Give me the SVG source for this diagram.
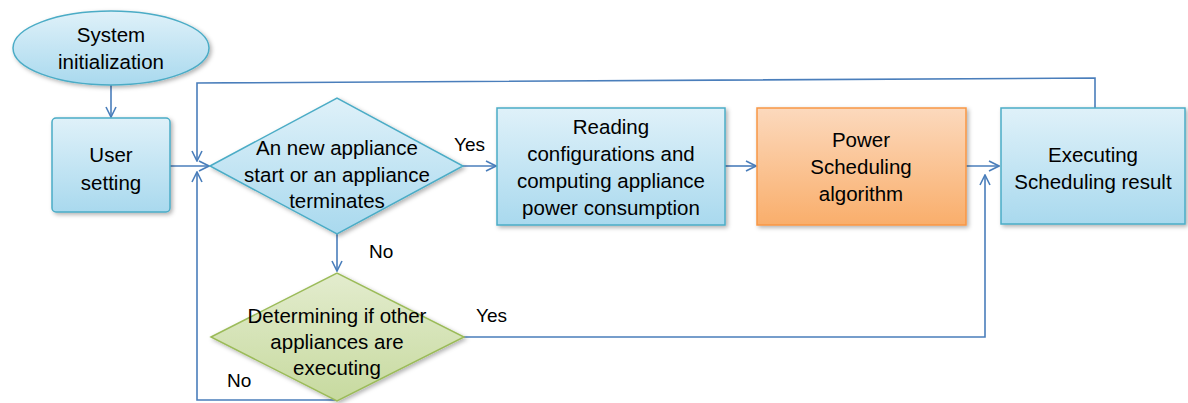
<svg xmlns="http://www.w3.org/2000/svg" width="1188" height="403" viewBox="0 0 1188 403">
<style>
.t{font-family:"Liberation Sans",Arial,sans-serif;font-size:20.5px;fill:#000;text-anchor:middle}
.l{font-family:"Liberation Sans",Arial,sans-serif;font-size:19px;fill:#000}
.blue{fill:url(#gb);stroke:#4bacc6;stroke-width:1.5}
.org{fill:url(#go);stroke:#f79646;stroke-width:1.5}
.grn{fill:url(#gg);stroke:#9bbb59;stroke-width:1.5}
.c{fill:none;stroke:#4a7ebb;stroke-width:1.6}
</style>
<defs>
<linearGradient id="gb" x1="0" y1="0" x2="0" y2="1"><stop offset="0" stop-color="#dff1f9"/><stop offset="1" stop-color="#a9d9ee"/></linearGradient>
<linearGradient id="go" x1="0" y1="0" x2="0" y2="1"><stop offset="0" stop-color="#fcd9bd"/><stop offset="1" stop-color="#f9ae6b"/></linearGradient>
<linearGradient id="gg" x1="0" y1="0" x2="0" y2="1"><stop offset="0" stop-color="#e3ecce"/><stop offset="1" stop-color="#c7da9f"/></linearGradient>
<filter id="sh" x="-10%" y="-10%" width="130%" height="130%"><feDropShadow dx="2" dy="2" stdDeviation="2" flood-color="#000" flood-opacity="0.3"/></filter>
<marker id="a" viewBox="0 0 12 12" refX="11" refY="6" markerWidth="12" markerHeight="12" markerUnits="userSpaceOnUse" orient="auto"><path d="M1,1 L11,6 L1,11" fill="none" stroke="#4a7ebb" stroke-width="1.6"/></marker>
</defs>
<g id="connectors">
<path class="c" d="M111,85 V117" marker-end="url(#a)"/>
<path class="c" d="M170,166 H209" marker-end="url(#a)"/>
<path class="c" d="M1095,108 V78 L197,83 V161" marker-end="url(#a)"/>
<path class="c" d="M337,400 H197 V172" marker-end="url(#a)"/>
<path class="c" d="M463,166 H496" marker-end="url(#a)"/>
<path class="c" d="M725,166 H756" marker-end="url(#a)"/>
<path class="c" d="M966,166 H999" marker-end="url(#a)"/>
<path class="c" d="M337,234 V271" marker-end="url(#a)"/>
<path class="c" d="M463,337 H985 V175" marker-end="url(#a)"/>
<text class="l" x="454" y="151">Yes</text>
<text class="l" x="369" y="258">No</text>
<text class="l" x="476" y="322">Yes</text>
<text class="l" x="227" y="387">No</text>
</g>
<g id="start">
<ellipse class="blue" cx="111" cy="48" rx="98" ry="37" filter="url(#sh)"/>
<text class="t" x="111" y="42">System</text>
<text class="t" x="111" y="69">initialization</text>
</g>
<g id="user">
<rect class="blue" x="52" y="118" width="118" height="94" rx="4" filter="url(#sh)"/>
<text class="t" x="111" y="162">User</text>
<text class="t" x="111" y="190">setting</text>
</g>
<g id="decision1">
<polygon class="blue" points="210,166 337,98 463,166 337,234" filter="url(#sh)"/>
<text class="t" x="337" y="155">An new appliance</text>
<text class="t" x="337" y="182">start or an appliance</text>
<text class="t" x="337" y="208">terminates</text>
</g>
<g id="reading">
<rect class="blue" x="497" y="108" width="228" height="117" filter="url(#sh)"/>
<text class="t" x="611" y="134">Reading</text>
<text class="t" x="611" y="161">configurations and</text>
<text class="t" x="611" y="188">computing appliance</text>
<text class="t" x="611" y="215">power consumption</text>
</g>
<g id="power">
<rect class="org" x="757" y="108" width="209" height="117" filter="url(#sh)"/>
<text class="t" x="861" y="147">Power</text>
<text class="t" x="861" y="174">Scheduling</text>
<text class="t" x="861" y="201">algorithm</text>
</g>
<g id="executing">
<rect class="blue" x="1001" y="108" width="184" height="116" filter="url(#sh)"/>
<text class="t" x="1093" y="162">Executing</text>
<text class="t" x="1093" y="189">Scheduling result</text>
</g>
<g id="decision2">
<polygon class="grn" points="211,337 337,273 464,337 337,401" filter="url(#sh)"/>
<text class="t" x="337" y="323">Determining if other</text>
<text class="t" x="337" y="349">appliances are</text>
<text class="t" x="337" y="375">executing</text>
</g>
</svg>
